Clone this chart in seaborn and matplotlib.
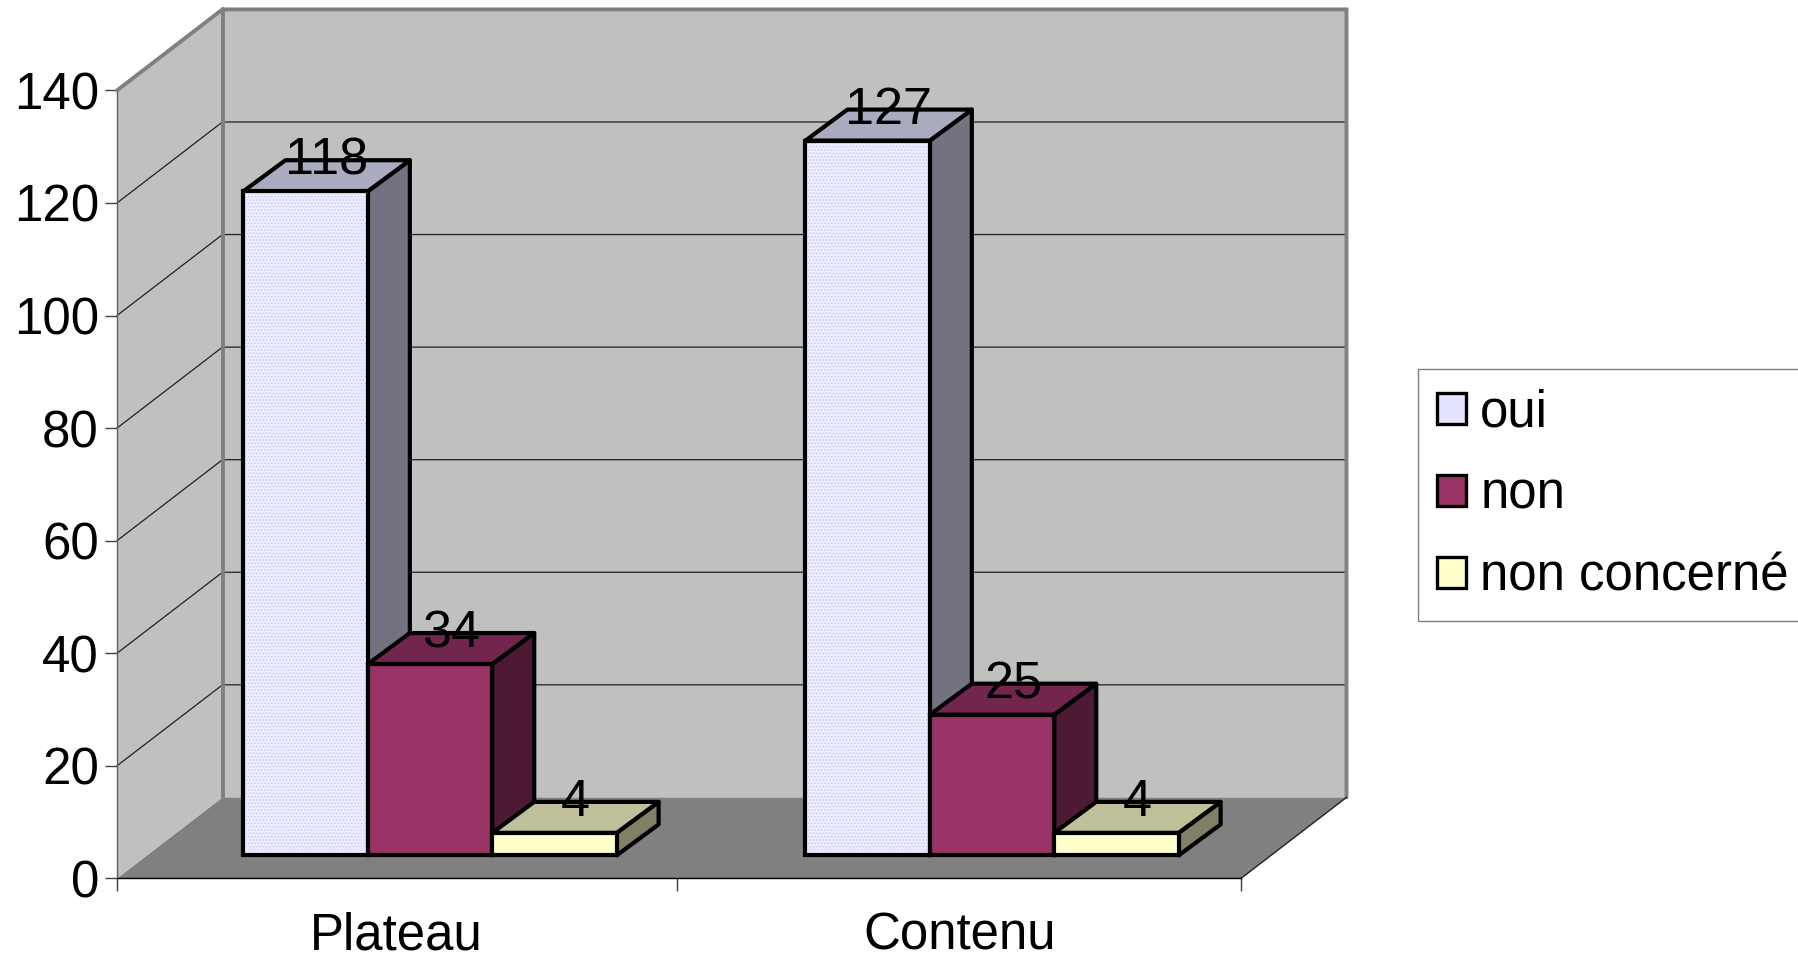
import matplotlib
matplotlib.use("Agg")
import matplotlib.pyplot as plt
from matplotlib.colors import to_rgb
from matplotlib.patches import Polygon, Rectangle
import pandas as pd
import seaborn as sns

# Values
categories = ["Plateau", "Contenu"]
responses = ["oui", "non", "non concerné"]
oui = [118, 127]
non = [34, 25]
non_concerne = [4, 4]
y_ticks = [0, 20, 40, 60, 80, 100, 120, 140]

colors = {"oui": "#E4E4FF", "non": "#993366", "non concerné": "#FFFFCC"}

df = pd.DataFrame({
    "categorie": categories * 3,
    "reponse": [r for r in responses for _ in categories],
    "valeur": oui + non + non_concerne,
})

sns.set_theme(style="white")
plt.rcParams["font.family"] = ["Liberation Sans", "DejaVu Sans"]
plt.rcParams["text.color"] = "black"
plt.rcParams["hatch.linewidth"] = 0.4
FS = 36.7
LW = 3.0

W, H = 1798, 955
fig = plt.figure(figsize=(W / 100, H / 100), dpi=100)
ax = fig.add_axes([117 / W, (H - 878.4) / H, 1124 / W, 788 / H])
ax.set_facecolor("none")

px_x = 2 / 1124     # one pixel in x data units
px_y = 140 / 788    # one pixel in y data units
x0, x1 = -0.557, 1.443
wall_dx, wall_dy = 105.5 * px_x, 81 * px_y
bar_dx, bar_dy = 42 * px_x, 31 * px_y
gap = 23 * px_y     # bars stand a little behind the front edge of the floor

sns.barplot(data=df, x="categorie", y="valeur", hue="reponse", palette=colors,
            width=0.664, gap=0, edgecolor="black", linewidth=LW, saturation=1,
            ax=ax, zorder=5)
# seaborn leaves empty placeholder rectangles for the legend, keep only real bars
bars = sorted([p for p in ax.patches if p.get_height() > 0], key=lambda p: p.get_x())
ax.set_xlim(x0, x1)
ax.set_ylim(0, 140)

# walls and floor of the 3D box
ax.add_patch(Polygon([(x0, 0), (x0 + wall_dx, wall_dy), (x1 + wall_dx, wall_dy), (x1, 0)],
                     fc="#808080", ec="none", clip_on=False, zorder=1))
ax.add_patch(Polygon([(x0, 0), (x0 + wall_dx, wall_dy), (x0 + wall_dx, 140 + wall_dy), (x0, 140)],
                     fc="#C0C0C0", ec="none", clip_on=False, zorder=1))
ax.add_patch(Polygon([(x0 + wall_dx, wall_dy), (x1 + wall_dx, wall_dy),
                      (x1 + wall_dx, 140 + wall_dy), (x0 + wall_dx, 140 + wall_dy)],
                     fc="#C0C0C0", ec="none", clip_on=False, zorder=1))

for v in y_ticks[1:-1]:
    ax.plot([x0, x0 + wall_dx, x1 + wall_dx], [v, v + wall_dy, v + wall_dy],
            color="#202020", lw=0.9, clip_on=False, zorder=2)
ax.plot([x0, x0 + wall_dx, x1 + wall_dx, x1 + wall_dx], [140, 140 + wall_dy, 140 + wall_dy, wall_dy],
        color="#808080", lw=2.8, clip_on=False, zorder=3, solid_joinstyle="miter")
ax.plot([x0 + wall_dx, x0 + wall_dx], [wall_dy, 140 + wall_dy],
        color="#808080", lw=2.8, clip_on=False, zorder=3)
ax.plot([x1, x1 + wall_dx], [0, wall_dy], color="#202020", lw=1, clip_on=False, zorder=3)


def shade(color, factor):
    return tuple(c * factor for c in to_rgb(color))


# sides, tops and value labels of the bars
z = 5
for bar in bars:
    value = bar.get_height()
    bar.set_y(gap)
    bar.set_zorder(z + 2)
    bar.set_joinstyle("miter")
    fc = bar.get_facecolor()
    left, right = bar.get_x(), bar.get_x() + bar.get_width()
    bottom, top = gap, gap + value
    ax.add_patch(Polygon([(right, bottom), (right + bar_dx, bottom + bar_dy),
                          (right + bar_dx, top + bar_dy), (right, top)],
                         fc=shade(fc, 0.5), ec="black", lw=LW, zorder=z, joinstyle="round"))
    ax.add_patch(Polygon([(left, top), (left + bar_dx, top + bar_dy),
                          (right + bar_dx, top + bar_dy), (right, top)],
                         fc=shade(fc, 0.75), ec="black", lw=LW, zorder=z + 1, joinstyle="round"))
    if to_rgb(fc) == to_rgb(colors["oui"]):
        # the fine dotted fill of the first series
        ax.add_patch(Rectangle((left, bottom), right - left, value, fc="#ECECFF", ec="#BDBDFF",
                               lw=0, hatch=".....", zorder=z + 1.5))
        bar.set_facecolor("none")
    ax.text((left + right + bar_dx) / 2, top + 30 * px_y, f"{value:.0f}", ha="center", va="center",
            fontsize=37.5, color="black", zorder=30)
    z += 3

# axis look
sns.despine(ax=ax, top=True, right=True)
ax.spines["left"].set_color("#606060")
ax.spines["left"].set_linewidth(1)
ax.spines["bottom"].set_color("black")
ax.spines["bottom"].set_linewidth(1)
ax.spines["bottom"].set_zorder(4)

ax.set_xlabel("")
ax.set_ylabel("")
ax.set_yticks(y_ticks)
ax.tick_params(axis="y", direction="out", left=True, length=9, width=1, color="#404040",
               pad=4, labelsize=FS, labelcolor="black")
ax.set_xticks([x0, 0.4386, x1], labels=["", "", ""])
ax.set_xticks([-0.06, 0.942], labels=categories, minor=True)
ax.tick_params(axis="x", which="major", direction="out", bottom=True, length=9, width=1, color="#404040")
ax.tick_params(axis="x", which="minor", bottom=False, pad=20, labelsize=FS, labelcolor="black")

# legend
handles, labels = ax.get_legend_handles_labels()
leg = ax.legend(handles, labels, loc="upper left", bbox_to_anchor=(1418 / W, 1 - 369 / H),
                bbox_transform=fig.transFigure, borderaxespad=0, fontsize=FS,
                handlelength=0.57, handleheight=0.57, handletextpad=0.27,
                labelspacing=0.65, borderpad=0.38, fancybox=False, framealpha=1,
                edgecolor="#808080", title=None, labelcolor="black")
leg.get_frame().set_linewidth(1)
for h in leg.legend_handles:
    h.set_edgecolor("black")
    h.set_linewidth(2.4)
leg.set_zorder(40)

fig.savefig("out.png", dpi=100)
